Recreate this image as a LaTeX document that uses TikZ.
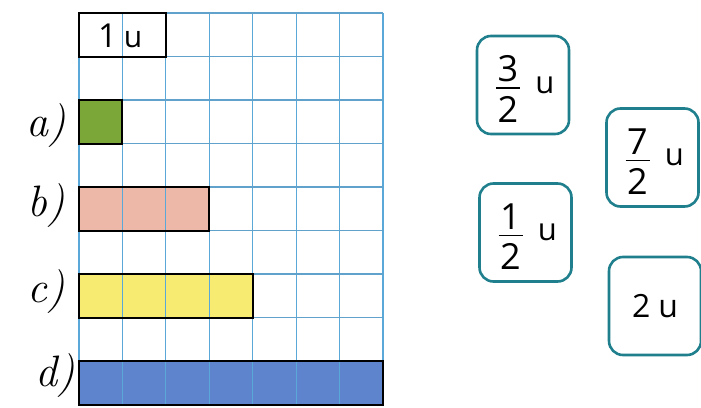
\documentclass[tikz,border=0pt]{standalone}
\usepackage{fontspec}
\setmainfont{Open Sans}
\newfontfamily\handfont{Latin Modern Roman}
\usepackage{xcolor}
\usepackage{tikz}

\definecolor{gridblue}{HTML}{5AA8D8}
\definecolor{cardteal}{HTML}{1F7F8C}
\definecolor{bargreen}{HTML}{7BA638}
\definecolor{barpink}{HTML}{EDB8A8}
\definecolor{baryellow}{HTML}{F7EB72}
\definecolor{barblue}{HTML}{5E84CE}

\begin{document}
\begin{tikzpicture}[x=0.5pt,y=-0.5pt,
    bar/.style={draw=black, line width=1pt},
    card/.style={draw=cardteal, line width=1.3pt, rounded corners=7pt, inner sep=0pt,
      minimum width=46pt, minimum height=49pt},
    digit/.style={inner sep=0pt, font=\fontsize{18}{20}\selectfont},
    unitletter/.style={inner sep=0pt, font=\fontsize{15.5}{18}\selectfont},
    rowlabel/.style={font=\handfont\itshape\fontsize{22}{24}\selectfont}]
    \useasboundingbox (0,0) rectangle (701,407);

    % Coloured bars (under the grid)
    \fill[bargreen] (79,100) rectangle (122.4,143.5);
    \fill[barpink] (79,187) rectangle (209.3,230.5);
    \fill[baryellow] (79,274) rectangle (252.7,317.5);
    \fill[barblue] (79,361) rectangle (383,404.5);

    % Squared paper
    \foreach \i in {0,...,7}
        \draw[gridblue, line width=0.6pt] (79+43.43*\i,13) -- (79+43.43*\i,404.5);
    \foreach \j in {0,...,9}
        \draw[gridblue!85!gray, line width=0.6pt] (79,13+43.5*\j) -- (383,13+43.5*\j);

    % Unit and bar outlines
    \draw[bar] (79,13) rectangle (165.9,56.5);
    \node[digit, font=\fontsize{16.5}{18}\selectfont] (unitone) at (107.5,36) {1};
    \node[unitletter, font=\fontsize{15}{16}\selectfont] (unitu) at (133,40) {u};
    \draw[bar] (79,100) rectangle (122.4,143.5);
    \draw[bar] (79,187) rectangle (209.3,230.5);
    \draw[bar] (79,274) rectangle (252.7,317.5);
    \draw[bar] (79,361) rectangle (383,404.5);

    % Labels
    \node[rowlabel] (la) at (46,126) {a)};
    \node[rowlabel] (lb) at (46,206) {b)};
    \node[rowlabel] (lc) at (46,292) {c)};
    \node[rowlabel] (ld) at (55,376) {d)};

    % Answer cards with a fraction
    \foreach \nm/\cx/\cy/\num/\den in {threehalf/523/85/3/2, sevenhalf/652.5/157.5/7/2, onehalf/525.5/232.5/1/2} {
        \node[card] (\nm) at (\cx,\cy) {};
        \node[digit] (\nm-num) at ([xshift=-7.5pt,yshift=8pt]\nm.center) {\num};
        \node[digit] (\nm-den) at ([xshift=-7.5pt,yshift=-12pt]\nm.center) {\den};
        \node[unitletter] (\nm-u) at ([xshift=11pt,yshift=0pt]\nm.center) {u};
        \draw[line width=0.75pt] ([xshift=-13.5pt,yshift=-1.5pt]\nm.center) -- ++(12pt,0);
    }

    % Whole-number card
    \node[card, font=\fontsize{16}{18}\selectfont] (twou) at (655,306) {2\hspace{0.25em}u};

\end{tikzpicture}
\end{document}
